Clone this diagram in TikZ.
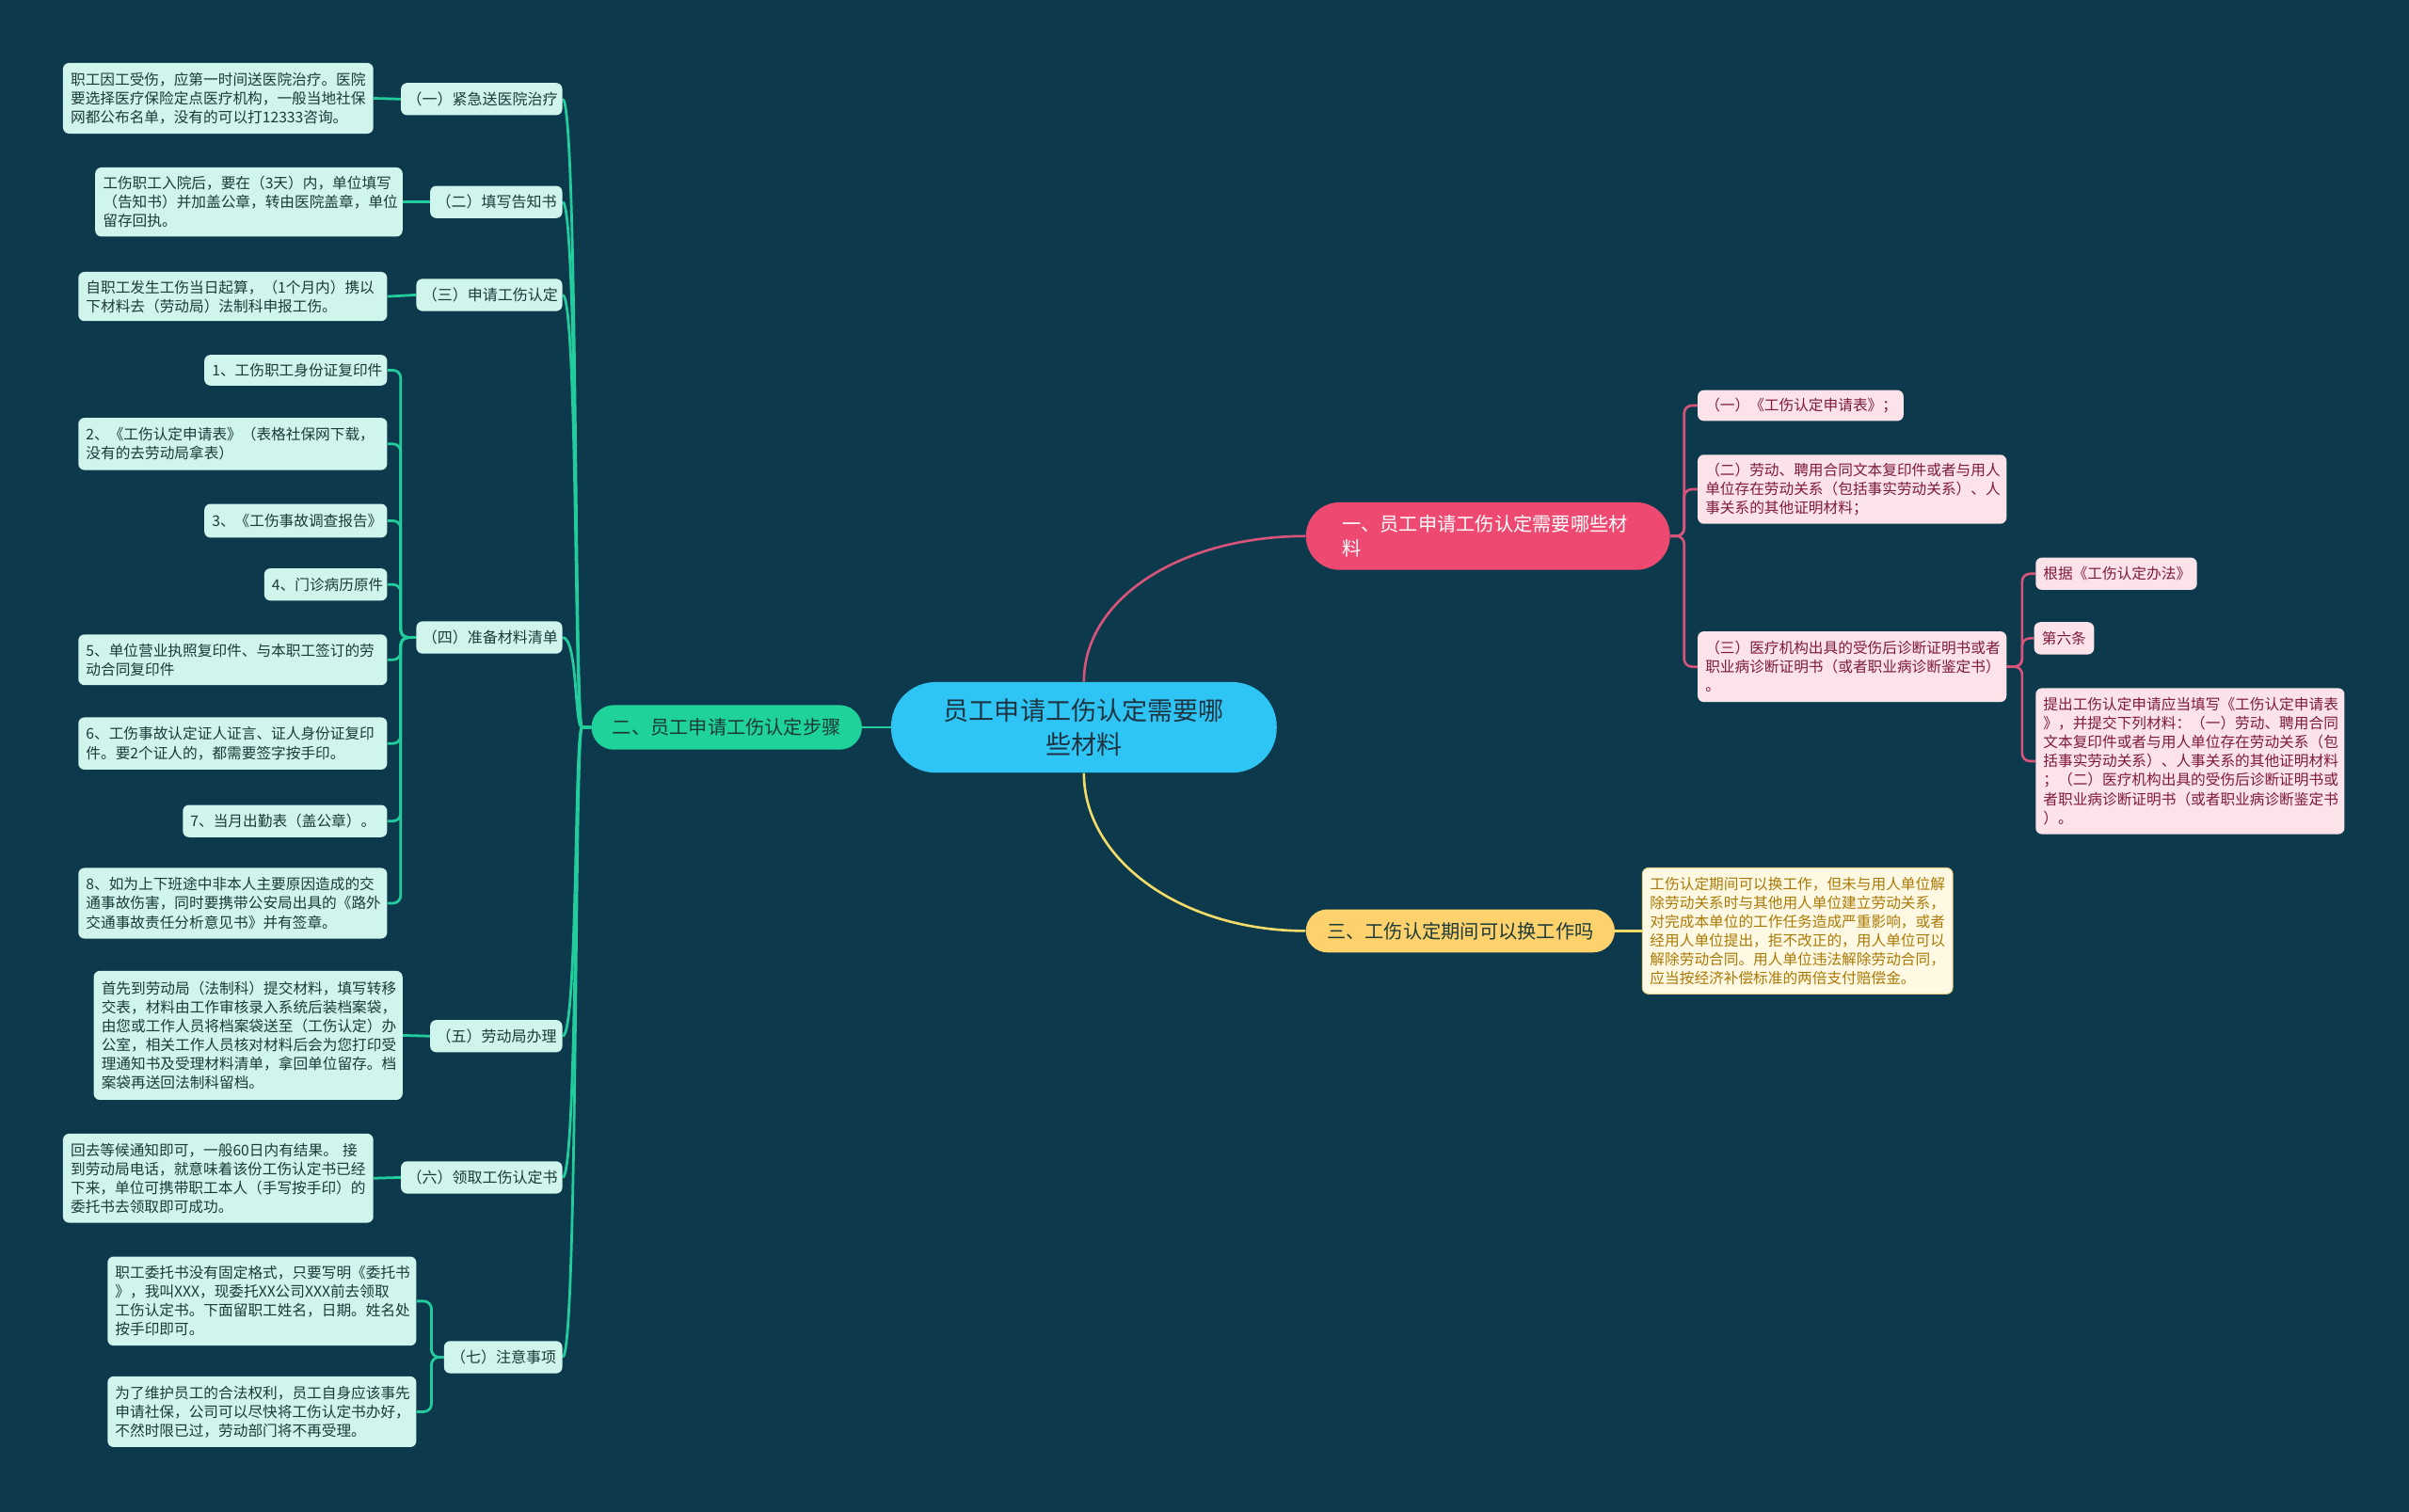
\documentclass[tikz,border=0pt]{standalone}
\usepackage{fontspec}
\setmainfont{Noto Sans CJK SC}
\usetikzlibrary{calc}
\definecolor{bgc}{HTML}{0C3A4C}
\definecolor{gcol}{HTML}{22CC9C}
\definecolor{gfill}{HTML}{1ED29A}
\definecolor{gleaffill}{HTML}{CFF5EC}
\definecolor{gtext}{HTML}{1D3A3A}
\definecolor{pcol}{HTML}{D9547A}
\definecolor{pfill}{HTML}{EE4A71}
\definecolor{pleaffill}{HTML}{FCE2E9}
\definecolor{ptext}{HTML}{7E1B3C}
\definecolor{ycol}{HTML}{F4DC6A}
\definecolor{yfill}{HTML}{FDD26C}
\definecolor{yleaffill}{HTML}{FFF8E3}
\definecolor{ytext}{HTML}{A97A06}
\definecolor{ydraw}{HTML}{EDD088}
\definecolor{cfill}{HTML}{2EC5F4}
\definecolor{ctext}{HTML}{1E3442}
\pgfdeclarelayer{bglayer}
\pgfdeclarelayer{conlayer}
\pgfsetlayers{bglayer,conlayer,main}
\begin{document}
\begin{tikzpicture}[x=1pt,y=-1pt,
  box/.style={rectangle, inner xsep=5pt, inner ysep=2pt, align=left,
    font=\fontsize{9.6}{12.3}\selectfont, rounded corners=4pt},
  gleaf/.style={box, fill=gleaffill, text=gtext},
  glabel/.style={box, fill=gleaffill, text=gtext, align=right, inner xsep=4pt,
    minimum height=21pt, font=\fontsize{9.8}{12}\selectfont},
  pleaf/.style={box, fill=pleaffill, text=ptext},
  yleaf/.style={box, fill=yleaffill, text=ytext, draw=ydraw, line width=0.6pt},
  gcon/.style={draw=gcol, line width=1.7pt},
  pcon/.style={draw=pcol, line width=1.6pt},
  ycon/.style={draw=ycol, line width=1.6pt},
  central/.style={rectangle, fill=cfill, text=ctext, align=center,
    font=\fontsize{16.6}{22}\selectfont, text width=196pt,
    minimum width=251pt, minimum height=59pt, rounded corners=29pt},
  branch/.style={rectangle, align=center, font=\fontsize{12.4}{16}\selectfont}
]
\begin{pgfonlayer}{bglayer}
\fill[bgc] (0,0) rectangle (1568,984);
\end{pgfonlayer}
\useasboundingbox (0,0) rectangle (1568,984);

% central
\node[central] (c0) at (705.5,473.5) {员工申请工伤认定需要哪\\些材料};

% main branches
\node[branch, fill=pfill, text=white, align=left, text width=190pt, inner xsep=23.5pt,
  minimum height=44pt, rounded corners=22pt] (b1) at (968.5,349)
  {一、员工申请工伤认定需要哪些材\\料};
\node[branch, fill=gfill, text=gtext, minimum width=176pt, minimum height=29pt,
  rounded corners=14.5pt] (b2) at (473,473.5) {二、员工申请工伤认定步骤};
\node[branch, fill=yfill, text=gtext, minimum width=201pt, minimum height=28pt,
  rounded corners=14pt] (b3) at (950.5,606) {三、工伤认定期间可以换工作吗};

% green labels
\node[glabel, text width=97pt] (g1) at (313.5,64.5) {（一）紧急送医院治疗};
\node[glabel, text width=78pt] (g2) at (323,131.5) {（二）填写告知书};
\node[glabel, text width=87pt] (g3) at (318.5,192) {（三）申请工伤认定};
\node[glabel, text width=87pt] (g4) at (318.5,415) {（四）准备材料清单};
\node[glabel, text width=78pt] (g5) at (323,674.5) {（五）劳动局办理};
\node[glabel, text width=97pt] (g6) at (313.5,766.5) {（六）领取工伤认定书};
\node[glabel, text width=69pt] (g7) at (327.5,883.5) {（七）注意事项};

% green leaves
\node[gleaf, text width=192pt, minimum height=46pt] (l1) at (142,64)
 {职工因工受伤，应第一时间送医院治疗。医院\\要选择医疗保险定点医疗机构，一般当地社保\\网都公布名单，没有的可以打12333咨询。};
\node[gleaf, text width=190pt, minimum height=45pt] (l2) at (162,131.5)
 {工伤职工入院后，要在（3天）内，单位填写\\（告知书）并加盖公章，转由医院盖章，单位\\留存回执。};
\node[gleaf, text width=191pt, minimum height=32pt] (l3) at (151.5,193)
 {自职工发生工伤当日起算，（1个月内）携以\\下材料去（劳动局）法制科申报工伤。};
\node[gleaf, text width=109pt, minimum height=20pt] (m1) at (192.5,241)
 {1、工伤职工身份证复印件};
\node[gleaf, text width=191pt, minimum height=34pt] (m2) at (151.5,289)
 {2、《工伤认定申请表》（表格社保网下载，\\没有的去劳动局拿表）};
\node[gleaf, text width=109pt, minimum height=22pt] (m3) at (192.5,339)
 {3、《工伤事故调查报告》};
\node[gleaf, text width=70pt, minimum height=21pt] (m4) at (212,380.5)
 {4、门诊病历原件};
\node[gleaf, text width=191pt, minimum height=33pt] (m5) at (151.5,429.5)
 {5、单位营业执照复印件、与本职工签订的劳\\动合同复印件};
\node[gleaf, text width=191pt, minimum height=34pt] (m6) at (151.5,484)
 {6、工伤事故认定证人证言、证人身份证复印\\件。要2个证人的，都需要签字按手印。};
\node[gleaf, text width=123pt, minimum height=21pt] (m7) at (185.5,534.5)
 {7、当月出勤表（盖公章）。};
\node[gleaf, text width=191pt, minimum height=46pt] (m8) at (151.5,588)
 {8、如为上下班途中非本人主要原因造成的交\\通事故伤害，同时要携带公安局出具的《路外\\交通事故责任分析意见书》并有签章。};
\node[gleaf, text width=191pt, minimum height=84pt] (l5) at (161.5,674)
 {首先到劳动局（法制科）提交材料，填写转移\\交表，材料由工作审核录入系统后装档案袋，\\由您或工作人员将档案袋送至（工伤认定）办\\公室，相关工作人员核对材料后会为您打印受\\理通知书及受理材料清单，拿回单位留存。档\\案袋再送回法制科留档。};
\node[gleaf, text width=192pt, minimum height=58pt] (l6) at (142,767)
 {回去等候通知即可，一般60日内有结果。 接\\到劳动局电话，就意味着该份工伤认定书已经\\下来，单位可携带职工本人（手写按手印）的\\委托书去领取即可成功。};
\node[gleaf, text width=191pt, minimum height=58pt] (l7a) at (170.5,847)
 {职工委托书没有固定格式，只要写明《委托书\\》，我叫XXX，现委托XX公司XXX前去领取\\工伤认定书。下面留职工姓名，日期。姓名处\\按手印即可。};
\node[gleaf, text width=191pt, minimum height=46pt] (l7b) at (170.5,919)
 {为了维护员工的合法权利，员工自身应该事先\\申请社保，公司可以尽快将工伤认定书办好，\\不然时限已过，劳动部门将不再受理。};

% pink leaves
\node[pleaf, text width=124pt, minimum height=20pt] (p1) at (1172,264)
 {（一）《工伤认定申请表》；};
\node[pleaf, text width=191pt, minimum height=45pt] (p2) at (1205.5,318.5)
 {（二）劳动、聘用合同文本复印件或者与用人\\单位存在劳动关系（包括事实劳动关系）、人\\事关系的其他证明材料；};
\node[pleaf, text width=191pt, minimum height=46pt] (p3) at (1205.5,434)
 {（三）医疗机构出具的受伤后诊断证明书或者\\职业病诊断证明书（或者职业病诊断鉴定书）\\。};
\node[pleaf, text width=95pt, minimum height=21pt] (q1) at (1377.5,373.5)
 {根据《工伤认定办法》};
\node[pleaf, text width=29pt, minimum height=21pt] (q2) at (1343.5,415.5)
 {第六条};
\node[pleaf, text width=191pt, minimum height=95pt] (q3) at (1425.5,495.5)
 {提出工伤认定申请应当填写《工伤认定申请表\\》，并提交下列材料：（一）劳动、聘用合同\\文本复印件或者与用人单位存在劳动关系（包\\括事实劳动关系）、人事关系的其他证明材料\\；（二）医疗机构出具的受伤后诊断证明书或\\者职业病诊断证明书（或者职业病诊断鉴定书\\）。};

% yellow leaf
\node[yleaf, text width=192pt, minimum height=82pt] (y1) at (1170,606)
 {工伤认定期间可以换工作，但未与用人单位解\\除劳动关系时与其他用人单位建立劳动关系，\\对完成本单位的工作任务造成严重影响，或者\\经用人单位提出，拒不改正的，用人单位可以\\解除劳动合同。用人单位违法解除劳动合同，\\应当按经济补偿标准的两倍支付赔偿金。};

% connectors
\begin{pgfonlayer}{conlayer}
\draw[gcon] (c0.west) -- (b2.east);
\foreach \n in {g1,g2,g3,g4,g5,g6,g7}
  \draw[gcon] (b2.west) -- ++(-6,0) .. controls +(-5,0) and +(10,0) .. (\n.east);
\draw[gcon] (g1.west) -- (l1.east);
\draw[gcon] (g2.west) -- (l2.east);
\draw[gcon] (g3.west) -- (l3.east);
\draw[gcon] (g5.west) -- (l5.east);
\draw[gcon] (g6.west) -- (l6.east);
\foreach \i in {1,...,8}
  \draw[gcon, rounded corners=5pt] (g4.west) -- ++(-10,0) |- (m\i.east);
\foreach \n in {l7a,l7b}
  \draw[gcon, rounded corners=5pt] (g7.west) -- ++(-8,0) |- (\n.east);

\draw[pcon] (c0.north) .. controls +(0,-55) and +(-80,0) .. (b1.west);
\foreach \n in {p1,p2,p3}
  \draw[pcon, rounded corners=5pt] (b1.east) -- ++(9,0) |- (\n.west);
\foreach \n in {q1,q2,q3}
  \draw[pcon, rounded corners=5pt] (p3.east) -- ++(10,0) |- (\n.west);

\draw[ycon] (c0.south) .. controls +(0,57) and +(-80,0) .. (b3.west);
\draw[ycon] (b3.east) -- (y1.west);
\end{pgfonlayer}
\end{tikzpicture}
\end{document}
